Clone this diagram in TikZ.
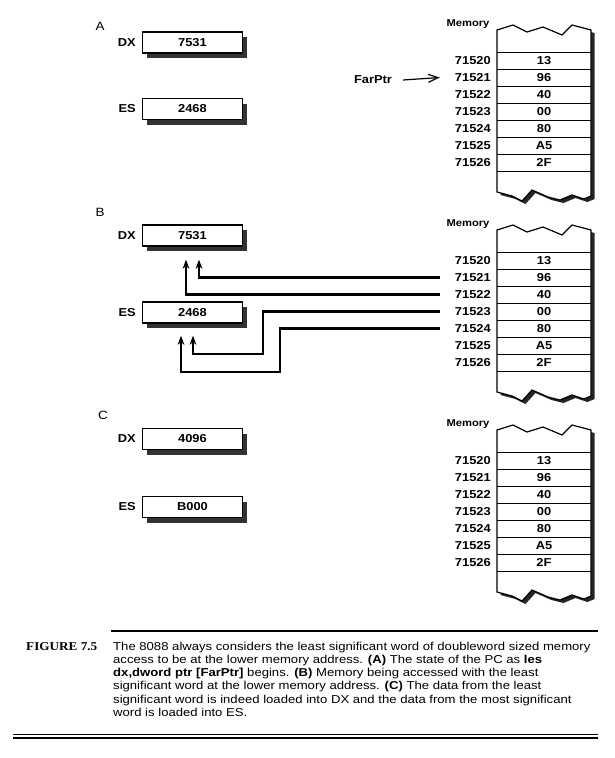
\documentclass[tikz,border=0pt]{standalone}
\usepackage{fontspec}
\setmainfont{Liberation Sans}[FakeStretch=1.12]
\newfontfamily\capfont{Liberation Sans}[FakeStretch=1.14]
\newfontfamily\figfont{Liberation Serif}[FakeStretch=1.1]
\usetikzlibrary{arrows.meta, shadows, positioning}
\tikzset{
  reg/.style={draw, line width=1.2pt, fill=white, minimum width=100pt, minimum height=21pt, inner sep=0pt,
    font=\bfseries\fontsize{11.5}{13}\selectfont,
    drop shadow={shadow xshift=4pt, shadow yshift=-5pt, opacity=1, fill=black!80}},
  reglbl/.style={inner sep=1pt, font=\bfseries\fontsize{11.5}{13}\selectfont},
  panel/.style={inner sep=0pt, font=\fontsize{12}{14}\selectfont},
  memlbl/.style={inner sep=0pt, font=\bfseries\fontsize{10}{12}\selectfont},
  addr/.style={anchor=east, inner sep=1pt, font=\bfseries\fontsize{11.5}{13}\selectfont},
  val/.style={inner sep=0pt, font=\bfseries\fontsize{11.5}{13}\selectfont},
  memframe/.style={line width=1.2pt, fill=white, line join=miter,
    drop shadow={shadow xshift=3.5pt, shadow yshift=-3pt, opacity=1, fill=black!85}},
  row/.style={line width=0.8pt},
  conn/.style={line width=2.2pt, line join=miter, -{Stealth[length=9pt,width=6.5pt,inset=2.5pt]}},
  ptr/.style={line width=1.2pt, -{Straight Barb[length=10pt,width=8pt]}},
  rule/.style={line width=1.2pt},
}
% memory column: #1 = panel name, #2 = vertical offset
\newcommand{\memcol}[2]{%
\begin{scope}[shift={(0,#2)}]
\node[memlbl] (#1mem) at (468,24) {Memory};
\draw[memframe] (497,30) -- (513,25) -- (527,32) -- (543,27) -- (562,35) -- (572,25) -- (591,30)
  -- (591,196) -- (584,199) -- (572,195) -- (560,200) -- (548,197) -- (532,190) -- (522,201)
  -- (512,196) -- (497,192) -- cycle;
\draw[row] (497,52) -- (591,52);
\draw[row] (497,69) -- (591,69);
\draw[row] (497,86) -- (591,86);
\draw[row] (497,103) -- (591,103);
\draw[row] (497,120) -- (591,120);
\draw[row] (497,137) -- (591,137);
\draw[row] (497,154) -- (591,154);
\draw[row] (497,171) -- (591,171);
\node[addr] (#1a0) at (492,60.5) {71520};
\node[addr] (#1a1) at (492,77.5) {71521};
\node[addr] (#1a2) at (492,94.5) {71522};
\node[addr] (#1a3) at (492,111.5) {71523};
\node[addr] (#1a4) at (492,128.5) {71524};
\node[addr] (#1a5) at (492,145.5) {71525};
\node[addr] (#1a6) at (492,162.5) {71526};
\node[val] (#1v0) at (544,60.5) {13};
\node[val] (#1v1) at (544,77.5) {96};
\node[val] (#1v2) at (544,94.5) {40};
\node[val] (#1v3) at (544,111.5) {00};
\node[val] (#1v4) at (544,128.5) {80};
\node[val] (#1v5) at (544,145.5) {A5};
\node[val] (#1v6) at (544,162.5) {2F};
\end{scope}}

\begin{document}
\begin{tikzpicture}[x=1pt,y=-1pt]
\useasboundingbox (0,0) rectangle (614,758);
% panel A: before the load
\node[panel] (pA) at (100,26) {A};
\node[reg] (dxA) at (192.5,42.5) {7531};
\node[reglbl, left=5pt of dxA] (dxAlbl) {DX};
\node[reg] (esA) at (192.5,109) {2468};
\node[reglbl, left=5pt of esA] (esAlbl) {ES};
\memcol{A}{0}
\node[reglbl] (farptr) at (373,80) {FarPtr};
\draw[ptr] ([xshift=10pt]farptr.east) -- ([xshift=-14pt]Aa1.west);
% panel B: words being moved
\node[panel] (pB) at (100,212) {B};
\node[reg] (dxB) at (192.5,235.5) {7531};
\node[reglbl, left=5pt of dxB] (dxBlbl) {DX};
\node[reg] (esB) at (192.5,312.5) {2468};
\node[reglbl, left=5pt of esB] (esBlbl) {ES};
\memcol{B}{200}
\coordinate (bendB3) at (263,354);
\coordinate (bendB4) at (280,372);
\draw[conn] ([xshift=-14pt]Ba1.west) -| ([xshift=6.5pt,yshift=-13pt]dxB.south);
\draw[conn] ([xshift=-14pt]Ba2.west) -| ([xshift=-6.5pt,yshift=-13pt]dxB.south);
\draw[conn] ([xshift=-14pt]Ba3.west) -| (bendB3) -| ([xshift=0.5pt,yshift=-12pt]esB.south);
\draw[conn] ([xshift=-14pt]Ba4.west) -| (bendB4) -| ([xshift=-11.5pt,yshift=-12pt]esB.south);
% panel C: after the load
\node[panel] (pC) at (103,415) {C};
\node[reg] (dxC) at (192.5,439) {4096};
\node[reglbl, left=5pt of dxC] (dxClbl) {DX};
\node[reg] (esC) at (192.5,507) {B000};
\node[reglbl, left=5pt of esC] (esClbl) {ES};
\memcol{C}{200*2}
% caption
\draw[rule] (111,631) -- (598,631);
\node[anchor=base west, inner sep=0pt, font=\figfont\bfseries\fontsize{12}{13}\selectfont] (figno) at (26,650.5) {FIGURE 7.5};
\node[anchor=north west, inner sep=0pt, align=left, font=\capfont\fontsize{11.5}{13.3}\selectfont] (captext) at (113,641.5)
  {The 8088 always considers the least significant word of doubleword sized memory\\
   access to be at the lower memory address. \textbf{(A)} The state of the PC as \textbf{les}\\
   \textbf{dx,dword ptr [FarPtr]} begins. \textbf{(B)} Memory being accessed with the least\\
   significant word at the lower memory address. \textbf{(C)} The data from the least\\
   significant word is indeed loaded into DX and the data from the most significant\\
   word is loaded into ES.};
\draw[rule] (13,734.8) -- (598,734.8);
\draw[rule] (13,738) -- (598,738);
\end{tikzpicture}
\end{document}
